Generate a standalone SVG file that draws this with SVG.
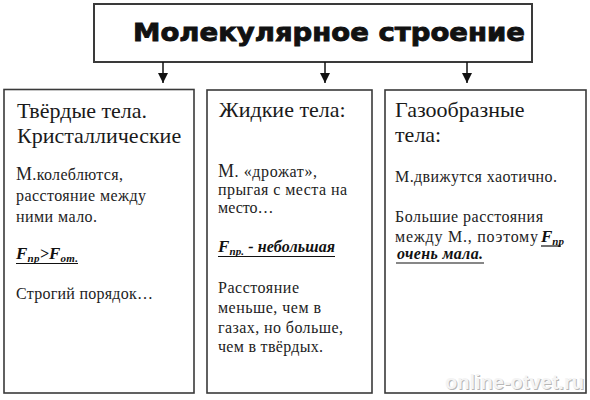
<svg xmlns="http://www.w3.org/2000/svg" width="590" height="400" viewBox="0 0 590 400">
<style>
.box{fill:#fff;stroke:#3a3a3a;stroke-width:1.6}
.ttl{font-family:"DejaVu Sans","Liberation Sans",sans-serif;font-weight:bold;font-size:25px;fill:#111;stroke:#111;stroke-width:0.9}
.hd{font-family:"Liberation Serif","Times New Roman","DejaVu Serif",serif;font-size:22px;fill:#1a1a1a}
.tx{font-family:"Liberation Serif","Times New Roman","DejaVu Serif",serif;font-size:16px;fill:#222}
.bigM{font-size:18px}
.fi{font-family:"Liberation Serif","Times New Roman","DejaVu Serif",serif;font-size:16px;font-weight:bold;font-style:italic;fill:#111}
.F{font-size:17px}
.sub{font-size:11px}
.ul{stroke:#111;stroke-width:1.2}
.conn line{stroke:#111;stroke-width:1.5}
.wm{font-family:"Liberation Sans",sans-serif;font-weight:bold;font-size:20px}
</style>
<defs>
<marker id="ah" markerUnits="userSpaceOnUse" markerWidth="11" markerHeight="11" refX="10" refY="5" orient="auto">
<path d="M0,0 L10,5 L0,10 z" fill="#111"/>
</marker>
</defs>
<rect width="590" height="400" fill="#fff"/>

<g id="title">
<rect class="box" x="94" y="4" width="438" height="58" style="stroke-width:2"/>
<text class="ttl" x="133" y="41" textLength="392" lengthAdjust="spacingAndGlyphs">Молекулярное строение</text>
</g>

<g id="connectors" class="conn">
<line x1="163" y1="62" x2="163" y2="83" marker-end="url(#ah)"/>
<line x1="325" y1="62" x2="325" y2="83" marker-end="url(#ah)"/>
<line x1="467" y1="62" x2="467" y2="83" marker-end="url(#ah)"/>
</g>

<g id="solid">
<rect class="box" x="4" y="89.5" width="190" height="303.5"/>
<text class="hd" x="17" y="118">Твёрдые тела.</text>
<text class="hd" x="17" y="143">Кристаллические</text>
<text class="tx" x="16" y="180" textLength="107" lengthAdjust="spacing"><tspan class="bigM">М</tspan>.колеблются,</text>
<text class="tx" x="16" y="201" textLength="130" lengthAdjust="spacing">расстояние между</text>
<text class="tx" x="16" y="222" textLength="81" lengthAdjust="spacing">ними мало.</text>
<text class="fi" x="16" y="259" textLength="62" lengthAdjust="spacing"><tspan class="F">F</tspan><tspan class="sub" dy="3">пр</tspan><tspan dy="-3">&gt;</tspan><tspan class="F">F</tspan><tspan class="sub" dy="3">от.</tspan></text>
<line class="ul" x1="16" y1="263.5" x2="78" y2="263.5"/>
<text class="tx" x="16" y="299" textLength="137" lengthAdjust="spacing">Строгий порядок…</text>
</g>

<g id="liquid">
<rect class="box" x="207" y="90" width="165" height="303"/>
<text class="hd" x="219" y="117">Жидкие тела:</text>
<text class="tx" x="218" y="177" textLength="99" lengthAdjust="spacing"><tspan class="bigM">М</tspan>. «дрожат»,</text>
<text class="tx" x="218" y="195" textLength="129" lengthAdjust="spacing">прыгая с места на</text>
<text class="tx" x="218" y="213">место…</text>
<text class="fi" x="218" y="252" textLength="117" lengthAdjust="spacing"><tspan class="F">F</tspan><tspan class="sub" dy="3">пр.</tspan><tspan dy="-3"> - небольшая</tspan></text>
<line class="ul" x1="218" y1="256.5" x2="335" y2="256.5"/>
<text class="tx" x="218" y="293" textLength="81" lengthAdjust="spacing">Расстояние</text>
<text class="tx" x="218" y="313" textLength="103" lengthAdjust="spacing">меньше, чем в</text>
<text class="tx" x="218" y="333" textLength="125" lengthAdjust="spacing">газах, но больше,</text>
<text class="tx" x="218" y="352" textLength="105" lengthAdjust="spacing">чем в твёрдых.</text>
</g>

<g id="gas">
<rect class="box" x="385" y="90" width="201" height="303"/>
<text class="hd" x="395" y="117">Газообразные</text>
<text class="hd" x="395" y="142">тела:</text>
<text class="tx" x="395" y="182" textLength="162" lengthAdjust="spacing">М.движутся хаотично.</text>
<text class="tx" x="395" y="222" textLength="148" lengthAdjust="spacing">Большие расстояния</text>
<text class="tx" x="395" y="242" textLength="143" lengthAdjust="spacing">между М., поэтому</text>
<text class="fi" x="541" y="242"><tspan class="F">F</tspan><tspan class="sub" dy="3">пр</tspan></text>
<line class="ul" x1="541" y1="246" x2="561" y2="246"/>
<text class="fi" x="397" y="259" textLength="86" lengthAdjust="spacing">очень мала.</text>
<line class="ul" x1="396" y1="263" x2="484" y2="263"/>
</g>

<g id="watermark">
<text class="wm" x="446" y="390" fill="#9a9a9a" opacity="0.7">online-otvet.ru</text>
<text class="wm" x="445" y="389" fill="#f4f4f4">online-otvet.ru</text>
</g>
</svg>
